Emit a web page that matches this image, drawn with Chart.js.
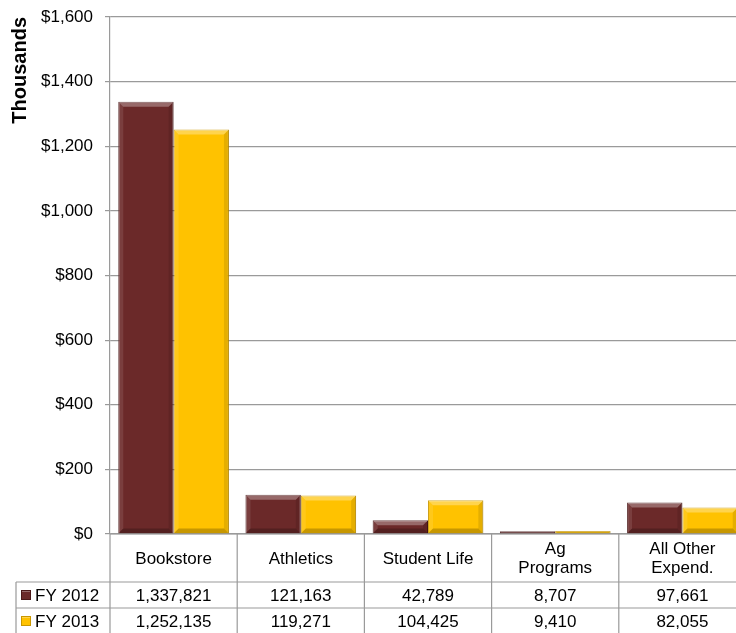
<!DOCTYPE html>
<html>
<head>
<meta charset="utf-8">
<script src="https://cdn.jsdelivr.net/npm/chart.js@4/dist/chart.umd.min.js"></script>
<style>
  html, body { margin: 0; padding: 0; background: #fff; overflow: hidden; }
  #wrap { width: 736px; height: 633px; overflow: hidden; position: relative; }
  canvas { position: absolute; left: 0; top: 0; }
</style>
</head>
<body>
<div id="wrap"><canvas id="chart" width="750" height="633"></canvas></div>
<script>
// ── data ──────────────────────────────────────
const categories = ['Bookstore', 'Athletics', 'Student Life', ['Ag', 'Programs'], ['All Other', 'Expend.']];
const seriesNames = ['FY 2012', 'FY 2013'];
const fy2012 = [1337821, 121163, 42789, 8707, 97661];
const fy2013 = [1252135, 119271, 104425, 9410, 82055];
const yTicks = [0, 200, 400, 600, 800, 1000, 1200, 1400, 1600];

const COLORS = ['#6B2929', '#FFC200'];
const EDGES  = ['#4A1818', '#C99700'];
const FONT   = '"Liberation Sans", Arial, sans-serif';
const LINE   = '#9a9a9a';

const fmt = n => n.toLocaleString('en-US');

// bevelled look on the bars (top light, bottom dark)
const bevelPlugin = {
  id: 'bevel',
  afterDatasetsDraw(chart) {
    const ctx = chart.ctx;
    chart.data.datasets.forEach((ds, di) => {
      chart.getDatasetMeta(di).data.forEach(bar => {
        const { x, y, base, width } = bar.getProps(['x', 'y', 'base', 'width'], true);
        const l = x - width / 2, r = x + width / 2, t = y, bt = base;
        const b = Math.min(5, (bt - t) / 2);
        const quad = (pts, fill) => {
          ctx.beginPath();
          ctx.moveTo(pts[0][0], pts[0][1]);
          pts.slice(1).forEach(p => ctx.lineTo(p[0], p[1]));
          ctx.closePath();
          ctx.fillStyle = fill;
          ctx.fill();
        };
        ctx.save();
        quad([[l, t], [r, t], [r - b, t + b], [l + b, t + b]], 'rgba(255,255,255,0.30)');
        quad([[l, t], [l + b, t + b], [l + b, bt - b], [l, bt]], 'rgba(255,255,255,0.10)');
        quad([[r, t], [r - b, t + b], [r - b, bt - b], [r, bt]], 'rgba(0,0,0,0.10)');
        quad([[l, bt], [l + b, bt - b], [r - b, bt - b], [r, bt]], 'rgba(0,0,0,0.22)');
        ctx.restore();
      });
    });
  }
};

// data table under the plot, aligned to the category scale
const tablePlugin = {
  id: 'dataTable',
  afterDraw(chart) {
    const { ctx, chartArea: a, scales: { x } } = chart;
    const n = categories.length;
    const colW = (a.right - a.left) / n;
    const top = a.bottom, hdrB = top + 48, r1B = hdrB + 26, r2B = r1B + 26;
    const leftX = 16;

    ctx.save();
    ctx.strokeStyle = LINE;
    ctx.lineWidth = 1.2;
    ctx.beginPath();
    ctx.moveTo(a.left, top); ctx.lineTo(a.right, top);
    [hdrB, r1B, r2B].forEach(y => { ctx.moveTo(leftX, y); ctx.lineTo(a.right, y); });
    for (let i = 0; i <= n; i++) {
      const xx = a.left + i * colW;
      ctx.moveTo(xx, top); ctx.lineTo(xx, r2B);
    }
    ctx.moveTo(leftX, hdrB); ctx.lineTo(leftX, r2B);
    ctx.stroke();

    ctx.fillStyle = '#000';
    ctx.font = '17px ' + FONT;
    ctx.textAlign = 'center';
    ctx.textBaseline = 'middle';
    categories.forEach((c, i) => {
      const cx = x.getPixelForValue(i);
      const lines = Array.isArray(c) ? c : [c];
      const lh = 19;
      const y0 = (top + hdrB) / 2 - (lines.length - 1) * lh / 2 + 1;
      lines.forEach((t, j) => ctx.fillText(t, cx, y0 + j * lh));
      ctx.fillText(fmt(fy2012[i]), cx, (hdrB + r1B) / 2 + 1);
      ctx.fillText(fmt(fy2013[i]), cx, (r1B + r2B) / 2 + 1);
    });

    // legend keys
    ctx.textAlign = 'left';
    [[hdrB, r1B], [r1B, r2B]].forEach(([y1, y2], i) => {
      const cy = (y1 + y2) / 2;
      ctx.fillStyle = COLORS[i];
      ctx.fillRect(21, cy - 5, 10, 10);
      ctx.fillStyle = 'rgba(255,255,255,0.3)';
      ctx.fillRect(21, cy - 5, 10, 2);
      ctx.strokeStyle = EDGES[i];
      ctx.lineWidth = 1;
      ctx.strokeRect(21.5, cy - 4.5, 9, 9);
      ctx.fillStyle = '#000';
      ctx.fillText(seriesNames[i], 35, cy + 1);
    });
    ctx.restore();
  }
};

const datasets = [fy2012, fy2013].map((vals, i) => ({
  label: seriesNames[i],
  data: vals.map(v => v / 1000),
  backgroundColor: COLORS[i],
  borderColor: EDGES[i],
  borderWidth: 1,
  categoryPercentage: 0.87,
  barPercentage: 1,
}));

new Chart(document.getElementById('chart'), {
  type: 'bar',
  data: { labels: categories, datasets },
  plugins: [bevelPlugin, tablePlugin],
  options: {
    responsive: false,
    animation: false,
    layout: { padding: { left: 8, right: 4, top: 17, bottom: 99 } },
    scales: {
      x: { display: false },
      y: {
        min: 0, max: 1600,
        afterFit: s => { s.width = 102; s.paddingTop = 0; s.paddingBottom = 0; },
        afterBuildTicks: s => { s.ticks = yTicks.map(v => ({ value: v })); },
        ticks: {
          color: '#000',
          padding: 12,
          font: { family: FONT, size: 17 },
          callback: v => '$' + fmt(v),
        },
        grid: { color: LINE, lineWidth: 1.2, tickLength: 5 },
        border: { color: LINE, width: 1.2 },
        title: {
          display: true, text: 'Thousands', color: '#000', align: 'end',
          font: { family: FONT, size: 20, weight: 'bold' },
          padding: 0,
        },
      },
    },
    plugins: {
      legend: { display: false },
      tooltip: { enabled: false },
    },
  },
});
</script>
</body>
</html>
